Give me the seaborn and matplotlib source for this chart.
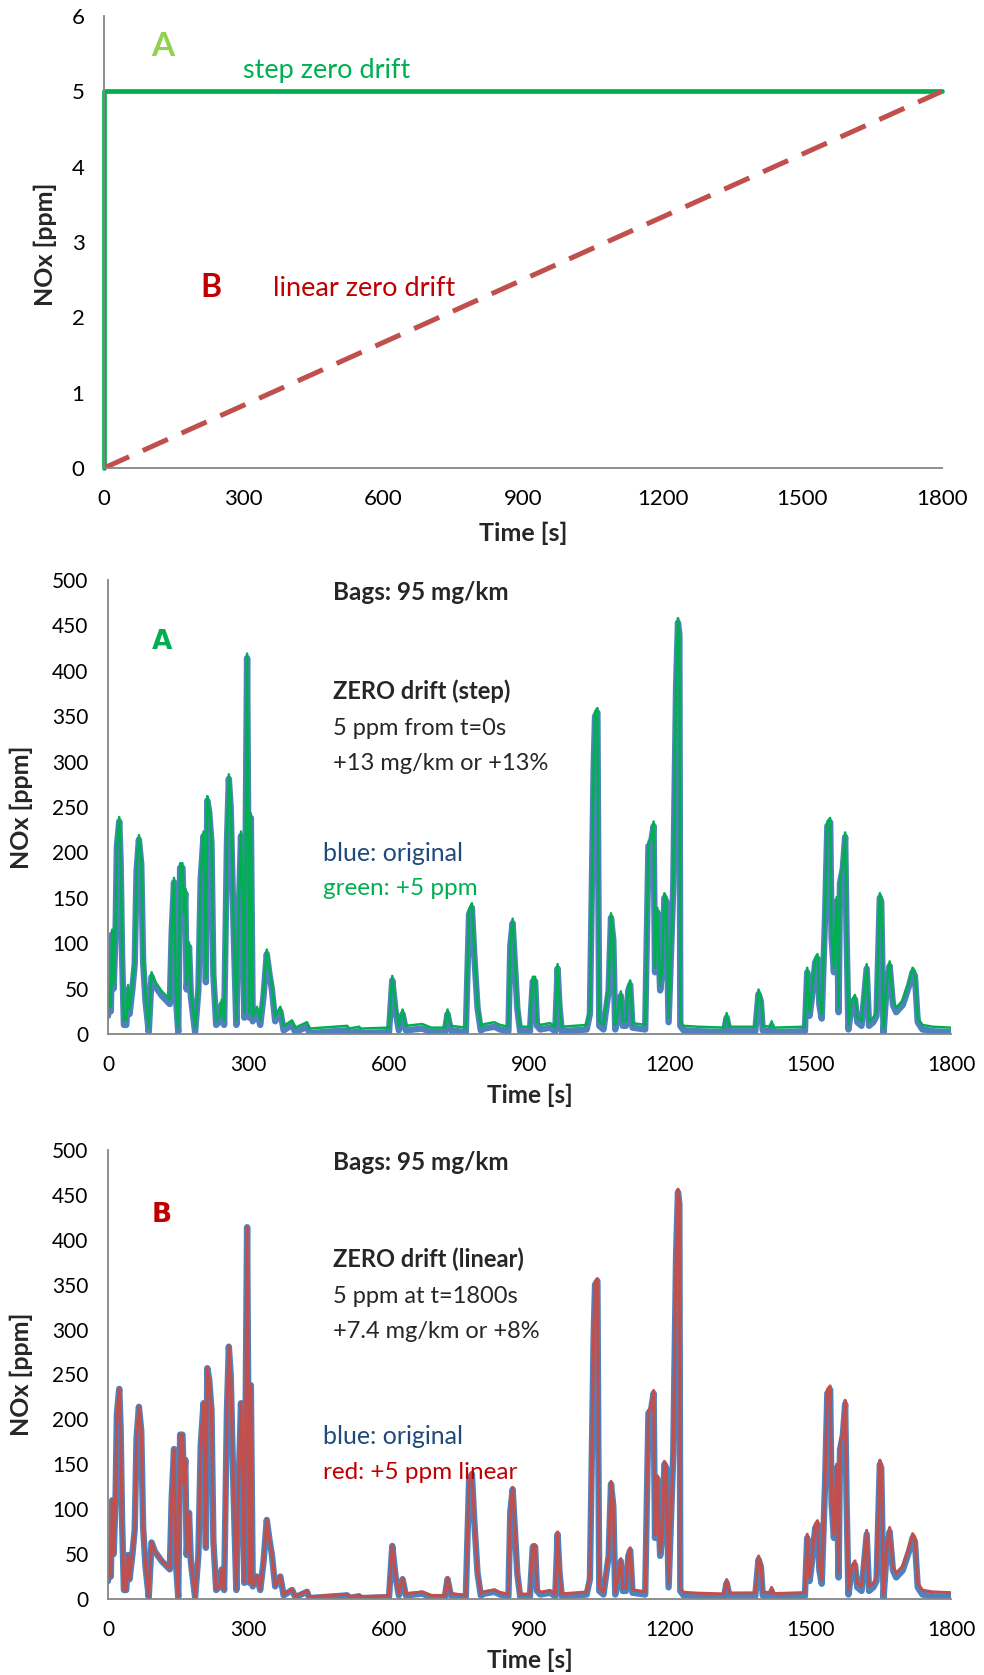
"""
NOx zero drift demo: step vs linear zero drift applied to a 1800 s test cycle.
"""

import matplotlib
matplotlib.use("Agg")
import matplotlib.pyplot as plt
import numpy as np
import pandas as pd
import seaborn as sns

# --- drift scenarios (top panel) ---
STEP_T = [0, 0, 1800]
STEP_NOX = [0, 5, 5]
LIN_T = [0, 1800]
LIN_NOX = [0, 5]
DRIFT_PPM = 5
CYCLE_END = 1800

# --- original NOx trace ---
TIME_S = [
    0, 2, 6, 9, 12, 16, 19, 24, 27, 30, 34, 39, 43, 46, 52, 57, 61, 66, 71, 75,
    80, 87, 93, 100, 115,
    132, 136, 141, 145, 150, 154, 159, 162, 165, 168, 173, 177, 186, 193, 198,
    204, 209, 212, 216, 221, 225, 231, 239, 243, 248, 254, 258, 262, 268, 274,
    279, 284, 288, 291, 297, 302, 305, 309, 318, 325, 332, 339, 345, 350, 357,
    368, 375, 393, 400, 425, 430,
    511, 515, 536, 540, 600, 607, 614, 621, 629, 636, 671, 690, 719, 725, 732,
    764, 771, 777, 782, 789, 796, 804, 825, 837, 855,
    859, 864, 869, 874, 880, 901, 907, 912, 916, 923, 944, 955, 960, 964, 969,
    1022, 1029, 1037, 1040, 1045, 1047, 1049, 1058, 1069, 1074, 1079, 1083,
    1090, 1095, 1099, 1106, 1111, 1115, 1120, 1147,
    1154, 1159, 1165, 1168, 1173, 1179, 1184, 1188, 1192, 1197, 1202, 1207,
    1213, 1217, 1220, 1222, 1229, 1260, 1315, 1321, 1327, 1382, 1389, 1394,
    1398, 1414, 1417, 1421, 1488,
    1493, 1498, 1503, 1510, 1515, 1519, 1524, 1531, 1536, 1542, 1545, 1550,
    1556, 1560, 1563, 1569, 1574, 1577, 1581, 1588, 1595, 1600, 1609, 1620,
    1625, 1634, 1641, 1648, 1651, 1656, 1662, 1669, 1676, 1683, 1697, 1711,
    1718, 1723, 1729, 1739, 1761, 1800,
]
NOX_PPM = [
    20, 40, 25, 110, 50, 108, 206, 234, 190, 88, 10, 10, 49, 22, 49, 77, 179, 214, 187, 80,
    37, 2, 63, 53, 42,
    33, 112, 167, 41, 2, 183, 183, 128, 155, 49, 96, 41, 2, 49, 171,
    218, 57, 257, 245, 210, 65, 10, 14, 33, 10, 210, 281, 249, 120, 10,
    128, 218, 128, 18, 414, 18, 238, 14, 25, 10, 41, 88, 65, 49, 14,
    25, 4, 10, 2, 8, 1,
    4, 1, 3, 1, 2, 59, 25, 4, 22, 4, 6, 2, 2, 22, 4,
    2, 132, 139, 88, 29, 4, 6, 8, 5, 3,
    97, 122, 75, 28, 3, 3, 58, 58, 9, 5, 7, 3, 72, 30, 3,
    5, 22, 292, 350, 354, 166, 9, 5, 48, 128, 103, 5,
    24, 42, 9, 9, 48, 54, 7, 5,
    207, 209, 229, 68, 134, 48, 72, 150, 146, 13, 87, 162,
    382, 453, 440, 9, 4, 3, 2, 18, 3, 3, 44, 36,
    4, 3, 9, 2, 3,
    68, 20, 40, 79, 83, 32, 17, 127, 229, 233, 107, 68,
    146, 24, 166, 182, 217, 111, 5, 32, 38, 13, 9, 72,
    9, 13, 20, 150, 146, 1, 48, 75, 32, 24, 32, 54,
    68, 64, 13, 5, 3, 2,
]

X_TICKS = [0, 300, 600, 900, 1200, 1500, 1800]

BLUE = "#4F81BD"
GREEN = "#00B050"
RED = "#C0504D"
DARK_RED = "#C00000"
LIGHT_GREEN = "#92D050"
TEXT_BLUE = "#1F497D"
GREY = "#868686"

W, H = 984, 1675

sns.set_style("white")
plt.rcParams["font.family"] = ["Lato", "DejaVu Sans"]


def style_axes(ax, tick_size):
    for side in ("top", "right"):
        ax.spines[side].set_visible(False)
    for side in ("left", "bottom"):
        ax.spines[side].set_color(GREY)
        ax.spines[side].set_linewidth(1.3)
    ax.tick_params(axis="both", direction="out", color=GREY, width=1.2,
                   labelsize=tick_size, labelcolor="black")
    ax.tick_params(axis="y", length=6, pad=8)
    ax.tick_params(axis="x", length=5, pad=10)
    ax.set_xticks(X_TICKS)
    ax.set_xlim(0, CYCLE_END)


def box(left, top, right, bottom):
    return [left / W, 1 - bottom / H, (right - left) / W, (bottom - top) / H]


def main() -> None:
    t = np.array(TIME_S, dtype=float)
    nox = np.array(NOX_PPM, dtype=float)
    df = pd.DataFrame({
        "t": t,
        "orig": nox,
        "step": nox + DRIFT_PPM,
        "linear": nox + DRIFT_PPM * t / CYCLE_END,
    })

    fig = plt.figure(figsize=(W / 100, H / 100), dpi=100)

    # ---------- top: drift definitions ----------
    ax0 = fig.add_axes(box(104, 16, 942, 468))
    sns.lineplot(x=STEP_T, y=STEP_NOX, ax=ax0, color=GREEN, lw=3.4,
                 estimator=None, sort=False, clip_on=False)
    sns.lineplot(x=LIN_T, y=LIN_NOX, ax=ax0, color=RED, lw=3.6,
                 estimator=None, sort=False)
    ax0.lines[-1].set_dashes((5.5, 3.0))
    style_axes(ax0, 16)
    ax0.set_ylim(0, 6)
    ax0.set_yticks(range(0, 7))
    ax0.set_ylabel("NOx [ppm]", fontsize=18, fontweight="bold")
    ax0.set_xlabel("Time [s]", fontsize=18, fontweight="bold")
    ax0.yaxis.set_label_coords(-0.056, 0.495)
    ax0.xaxis.set_label_coords(0.5, -0.118)
    ax0.text(127, 5.59, "A", color=LIGHT_GREEN, fontsize=24, fontweight="bold",
             ha="center", va="center")
    ax0.text(299, 5.28, "step zero drift", color=GREEN, fontsize=19.5,
             ha="left", va="center")
    ax0.text(230, 2.40, "B", color=DARK_RED, fontsize=23, fontweight="bold",
             ha="center", va="center")
    ax0.text(362, 2.38, "linear zero drift", color=DARK_RED, fontsize=19.5,
             ha="left", va="center")

    # ---------- middle: step drift ----------
    ax1 = fig.add_axes(box(108, 580, 951, 1034))
    sns.lineplot(data=df, x="t", y="orig", ax=ax1, color=BLUE, lw=4.6)
    sns.lineplot(data=df, x="t", y="step", ax=ax1, color=GREEN, lw=1.8)

    # ---------- bottom: linear drift ----------
    ax2 = fig.add_axes(box(108, 1150, 951, 1599))
    sns.lineplot(data=df, x="t", y="orig", ax=ax2, color=BLUE, lw=4.6)
    sns.lineplot(data=df, x="t", y="linear", ax=ax2, color=RED, lw=2.2)

    notes = {
        ax1: ("A", GREEN, 432, "ZERO drift (step)", "5 ppm from t=0s",
              "+13 mg/km or +13%", "green: +5 ppm", GREEN, 199, 160),
        ax2: ("B", DARK_RED, 428, "ZERO drift (linear)", "5 ppm at t=1800s",
              "+7.4 mg/km or +8%", "red: +5 ppm linear", DARK_RED, 181, 141),
    }
    for ax, (tag, tag_col, tag_y, head, line1, line2, leg2, leg2_col,
             y_leg1, y_leg2) in notes.items():
        for ln in ax.lines:
            ln.set_solid_joinstyle("round")
        style_axes(ax, 15)
        ax.set_ylim(0, 500)
        ax.set_yticks(range(0, 501, 50))
        ax.set_ylabel("NOx [ppm]", fontsize=18, fontweight="bold")
        ax.set_xlabel("Time [s]", fontsize=17.5, fontweight="bold")
        ax.yaxis.set_label_coords(-0.089, 0.5)
        ax.xaxis.set_label_coords(0.5, -0.11)
        ax.text(480, 486, "Bags: 95 mg/km", fontsize=17.5, fontweight="bold",
                ha="left", va="center")
        ax.text(115, tag_y, tag, color=tag_col, fontsize=19, fontweight="bold",
                family="DejaVu Sans", ha="center", va="center")
        ax.text(480, 378, head, fontsize=17, fontweight="bold",
                ha="left", va="center")
        ax.text(480, 337, line1, fontsize=17, ha="left", va="center")
        ax.text(480, 298, line2, fontsize=17, ha="left", va="center")
        ax.text(459, y_leg1, "blue: original", color=TEXT_BLUE, fontsize=18,
                ha="left", va="center")
        ax.text(459, y_leg2, leg2, color=leg2_col, fontsize=17.5,
                ha="left", va="center")

    fig.savefig("out.png", dpi=100)
    print("[INFO] Saved out.png")


if __name__ == "__main__":
    main()
